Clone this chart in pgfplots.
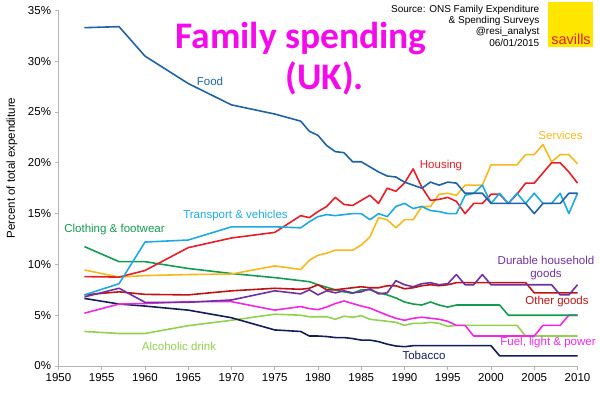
\documentclass[border=0pt]{standalone}
\usepackage{fontspec}
\setmainfont{Liberation Sans}
\newfontfamily\titlefont{Carlito}
\usepackage{pgfplots}
\usepackage{pgfplotstable}
\pgfplotsset{compat=1.18}
\definecolor{cfood}{RGB}{31,99,165}
\definecolor{ctrans}{RGB}{30,170,225}
\definecolor{chous}{RGB}{230,30,40}
\definecolor{cserv}{RGB}{245,185,30}
\definecolor{ccloth}{RGB}{20,155,80}
\definecolor{cother}{RGB}{190,20,20}
\definecolor{cdur}{RGB}{112,48,160}
\definecolor{cfuel}{RGB}{240,40,230}
\definecolor{calc}{RGB}{146,208,80}
\definecolor{ctob}{RGB}{20,30,90}
\definecolor{ctitle}{RGB}{245,10,235}
\definecolor{cyell}{RGB}{255,230,0}
\definecolor{cred}{RGB}{215,35,35}
\definecolor{caxis}{RGB}{180,180,180}

\pgfplotstableread{
year food trans hous serv cloth other dur fuel alc tob
1953 33.3 7.0 8.8 9.45 11.75 7.0 6.8 5.2 3.4 6.65
1957 33.4 8.1 8.75 8.75 10.27 7.3 7.65 6.1 3.2 6.1
1960 30.5 12.2 9.4 8.9 10.27 7.05 6.27 6.15 3.2 5.9
1965 27.8 12.4 11.65 9.0 9.6 7.0 6.27 6.33 3.97 5.5
1970 25.7 13.7 12.6 9.05 9.1 7.4 6.5 6.33 4.5 4.75
1975 24.8 13.7 13.15 9.85 8.7 7.65 7.4 5.5 5.1 3.55
1978 24.1 13.6 14.8 9.5 8.4 7.55 7.1 5.85 5.0 3.4
1979 23.1 14.2 14.6 10.4 8.3 7.65 7.5 5.65 4.85 2.95
1980 22.7 14.7 15.2 10.9 8.0 8.0 7.0 5.55 4.85 2.95
1981 21.7 14.9 15.7 11.1 7.75 7.5 7.4 5.8 4.85 2.9
1982 21.1 14.8 16.6 11.4 7.5 7.5 7.2 6.15 4.6 2.8
1983 21.0 14.9 15.9 11.4 7.3 7.6 7.4 6.4 4.9 2.8
1984 20.1 15.0 15.8 11.4 7.15 7.7 7.2 6.15 4.8 2.7
1985 20.1 15.0 16.3 11.9 7.5 7.8 7.3 5.9 4.95 2.55
1986 19.6 14.4 16.8 12.7 7.5 7.7 7.6 5.7 4.6 2.55
1987 19.1 15.0 16.0 14.6 7.2 7.7 7.1 5.35 4.5 2.4
1988 18.7 14.7 17.5 14.4 7.0 7.9 7.2 5.0 4.4 2.15
1989 18.6 15.7 17.2 13.6 6.7 7.9 8.4 4.7 4.3 1.97
1990 18.1 16.0 18.0 14.4 6.3 7.6 8.0 4.5 4.0 1.9
1991 17.8 15.5 19.4 14.4 6.1 7.7 7.8 4.7 4.2 2.0
1992 17.5 15.7 17.6 15.7 6.0 7.9 8.1 4.8 4.2 2.0
1993 18.1 15.3 16.3 15.7 6.3 8.0 8.2 4.7 4.3 2.0
1994 17.8 15.2 16.4 16.9 6.0 7.9 8.0 4.6 4.2 2.0
1995 18.1 15.0 16.6 17.0 5.8 8.0 8.1 4.4 3.9 2.0
1996 18.0 15.0 16.2 16.8 6.0 8.2 9.0 4.0 4.0 2.0
1997 17.0 16.8 15.0 17.8 6.0 8.2 8.0 4.0 4.0 2.0
1998 17.0 17.0 16.0 17.8 6.0 8.2 8.0 2.95 4.0 2.0
1999 17.0 17.8 16.0 17.8 6.0 8.2 9.0 2.95 4.0 2.0
2000 16.0 16.0 16.9 19.8 6.0 8.2 8.0 2.95 4.0 2.0
2001 16.0 17.0 16.9 19.8 6.0 8.2 8.0 2.95 4.0 1.0
2002 16.0 16.0 16.0 19.8 5.0 8.2 8.0 2.95 4.0 1.0
2003 16.0 17.0 16.9 19.8 5.0 8.2 8.0 2.95 4.0 1.0
2004 16.0 16.0 18.0 20.8 5.0 8.2 8.0 2.95 2.95 1.0
2005 15.0 17.0 18.0 20.8 5.0 7.2 8.0 2.95 2.95 1.0
2006 16.0 16.0 19.0 21.8 5.0 7.2 8.0 4.0 2.95 1.0
2007 16.0 16.0 20.0 20.1 5.0 7.2 8.0 4.0 2.95 1.0
2008 16.0 17.0 20.0 20.8 5.0 7.2 7.0 4.0 2.95 1.0
2009 17.0 15.0 19.1 20.8 5.0 7.2 7.0 5.0 2.95 1.0
2010 17.0 17.0 18.0 19.9 5.0 7.2 8.0 5.0 2.95 1.0
}\spend

\begin{document}
\begin{tikzpicture}[x=1bp,y=1bp]
\path[use as bounding box] (0,0) rectangle (600,392);
\begin{axis}[
  at={(58.5bp,26bp)}, anchor=south west,
  scale only axis, width=519bp, height=355.6bp,
  xmin=1950, xmax=2010, ymin=0, ymax=35,
  axis x line*=bottom, axis y line*=left,
  axis line style={draw=caxis, line width=0.8bp},
  xtick={1950,1955,...,2010},
  xticklabels={1950,1955,1960,1965,1970,1975,1980,1985,1990,1995,2000,2005,2010},
  ytick={0,5,...,35},
  yticklabels={0\%,5\%,10\%,15\%,20\%,25\%,30\%,35\%},
  tick style={draw=caxis, line width=0.8bp},
  major tick length=4bp, tick align=outside,
  ticklabel style={font=\fontsize{11.5bp}{13bp}\selectfont},
  /pgf/number format/assume math mode=true,
  clip=false,
  every axis plot/.append style={line width=1.6bp, no markers, line join=round},
]
\addplot[calc] table[x=year,y=alc] {\spend};
\addplot[ctob] table[x=year,y=tob] {\spend};
\addplot[cfuel] table[x=year,y=fuel] {\spend};
\addplot[ccloth] table[x=year,y=cloth] {\spend};
\addplot[cother] table[x=year,y=other] {\spend};
\addplot[cdur] table[x=year,y=dur] {\spend};
\addplot[cserv] table[x=year,y=serv] {\spend};
\addplot[chous] table[x=year,y=hous] {\spend};
\addplot[ctrans] table[x=year,y=trans] {\spend};
\addplot[cfood] table[x=year,y=food] {\spend};
\end{axis}

% y label
\node[rotate=90, font=\fontsize{11.5bp}{13bp}\selectfont] at (12,224) {Percent of total expenditure};

% series labels
\begin{scope}[every node/.style={font=\fontsize{11.5bp}{13bp}\selectfont, inner sep=0pt}]
\node[text=cfood] at (210,311) {Food};
\node[text=ctrans] at (235.5,176) {Transport \& vehicles};
\node[text=ccloth] at (114.5,162) {Clothing \& footwear};
\node[text=chous] at (441,226) {Housing};
\node[text=cserv] at (560.5,257) {Services};
\node[text=cdur, align=center, font=\fontsize{11.5bp}{13bp}\selectfont] at (546,123.5) {Durable household\\goods};
\node[text=cother] at (557,90) {Other goods};
\node[text=cfuel] at (548,49) {Fuel, light \& power};
\node[text=ctob] at (424,37) {Tobacco};
\node[text=calc] at (179,46) {Alcoholic drink};
\end{scope}

% title
\node[anchor=base, text=ctitle, font=\titlefont\bfseries\fontsize{37.5bp}{40bp}\selectfont, inner sep=0pt] at (301,343.7) {Family spending};
\node[anchor=base, text=ctitle, font=\titlefont\bfseries\fontsize{37.5bp}{40bp}\selectfont, inner sep=0pt] at (324.7,302.7) {(UK).};

% source
\begin{scope}[every node/.style={anchor=base east, inner sep=0pt, font=\fontsize{10bp}{11bp}\selectfont}]
\node at (539.5,379.5) {Source: ONS Family Expenditure};
\node at (539.5,368.3) {\& Spending Surveys};
\node at (539.5,357.1) {@resi\_analyst};
\node at (539.5,345.9) {06/01/2015};
\end{scope}

% logo
\fill[cyell] (548,345.3) rectangle (593.3,390.3);
\node[anchor=base, inner sep=0pt, text=cred, font=\fontsize{14.5bp}{16bp}\selectfont] at (571,347.7) {savills};
\end{tikzpicture}
\end{document}
